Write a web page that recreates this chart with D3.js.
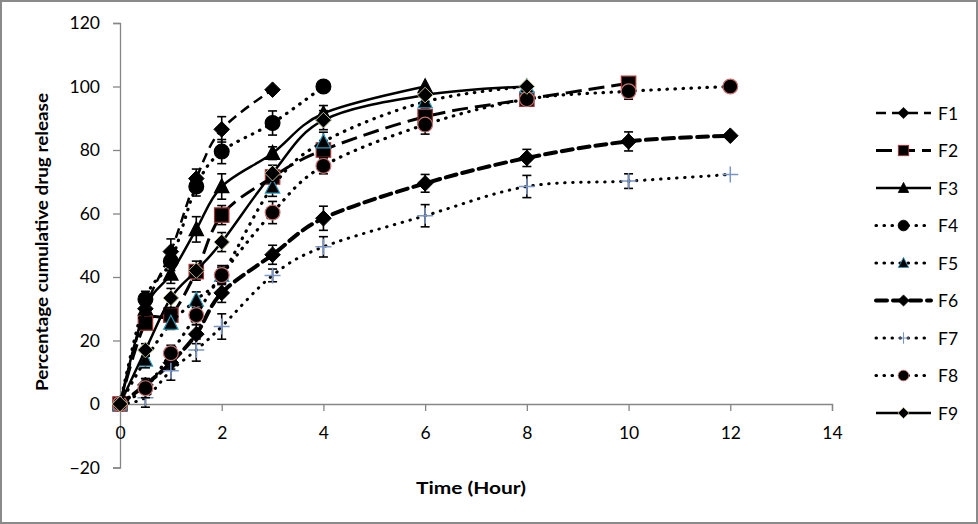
<!DOCTYPE html>
<html>
<head>
<meta charset="utf-8">
<script src="https://cdn.jsdelivr.net/npm/d3@7"></script>
<style>
  html, body { margin: 0; padding: 0; background: #fff; }
  svg { display: block; font-family: Lato, "Open Sans", sans-serif; }
</style>
</head>
<body>
<div id="chart"></div>
<script>
// ---------- data ----------
const seriesNames = ["F1", "F2", "F3", "F4", "F5", "F6", "F7", "F8", "F9"];
const timesAll = [0, 0.5, 1, 1.5, 2, 3, 4, 6, 8, 10, 12];

const F1 = [0, 30, 48, 71, 86.5, 99];
const F2 = [0, 25.5, 28, 41.7, 59.5, 71.5, 80, 90.5, 96, 101];
const F3 = [0, 30, 41, 55, 68.5, 79, 91.5, 100];
const F4 = [0, 33, 45, 68.5, 79.5, 88.5, 100];
const F5 = [0, 13.9, 25.5, 32.8, 40.6, 68.4, 82.6, 95.2, 100];
const F6 = [0, 6, 13, 22, 35, 47, 58.5, 69.5, 77.5, 82.7, 84.5];
const F7 = [0, 2, 10.5, 17, 24.4, 40.5, 49.5, 59.3, 68.5, 70.2, 72.3];
const F8 = [0, 5, 16, 28, 40.6, 60.3, 75, 88, 96, 98.5, 100];
const F9 = [0, 17, 33.4, 42, 51, 72.7, 89.4, 97.3, 100];

const F1err = [0, 2, 4, 3, 4, 0];
const F2err = [1.5, 2, 2, 2, 3, 2, 3, 2, 1.5, 1];
const F3err = [0, 2, 3, 4, 4, 2, 2.5, 0];
const F4err = [0, 2.5, 3, 3, 3.8, 3.8, 0];
const F5err = [0, 2.5, 2, 2.5, 2.5, 3, 3, 2, 0];
const F6err = [0, 2, 2, 3, 3, 3, 3.8, 2.8, 2.7, 3, 0];
const F7err = [0, 3, 3, 3.5, 4, 2, 3.2, 3.5, 3.5, 2.3, 0];
const F8err = [0, 3, 2.5, 3, 3, 3.5, 2.5, 3, 2, 2.5, 0];
const F9err = [0, 2, 3, 3, 3, 2.5, 3, 2, 0];

const xTicks = [0, 2, 4, 6, 8, 10, 12, 14];
const yTicks = [-20, 0, 20, 40, 60, 80, 100, 120];

// ---------- styles ----------
const styles = {
  F1: {dash: "10,6", width: 2.5, cap: "butt", marker: "diamond", fill: "#000", stroke: "#000"},
  F2: {dash: "16,7", width: 3, cap: "butt", marker: "square", fill: "#000", stroke: "#a83232"},
  F3: {dash: null, width: 2.5, cap: "butt", marker: "triangle", fill: "#000", stroke: "#000"},
  F4: {dash: "0.5,7.5", width: 3.2, cap: "round", marker: "circle", fill: "#000", stroke: "#000"},
  F5: {dash: "0.5,7.5", width: 3.2, cap: "round", marker: "triangle", fill: "#000", stroke: "#2b9bbd"},
  F6: {dash: "11,6", width: 4, cap: "round", marker: "diamond", fill: "#000", stroke: "#000"},
  F7: {dash: "0.5,7.5", width: 3, cap: "round", marker: "cross", fill: "none", stroke: "#7a96c8"},
  F8: {dash: "0.5,7.5", width: 3.2, cap: "round", marker: "circle", fill: "#000", stroke: "#c87070"},
  F9: {dash: null, width: 2.5, cap: "butt", marker: "diamond", fill: "#000", stroke: "#c0c090"}
};
const seriesValues = {F1, F2, F3, F4, F5, F6, F7, F8, F9};
const seriesErr = {F1: F1err, F2: F2err, F3: F3err, F4: F4err, F5: F5err, F6: F6err, F7: F7err, F8: F8err, F9: F9err};

// ---------- layout ----------
const W = 978, H = 524;
const svg = d3.select("#chart").append("svg").attr("width", W).attr("height", H);

svg.append("rect").attr("x", 1).attr("y", 1).attr("width", W - 2).attr("height", H - 2)
  .attr("fill", "#fff").attr("stroke", "#8a8a8a").attr("stroke-width", 2);

const x = d3.scaleLinear().domain([0, 14]).range([120, 832]);
const y = d3.scaleLinear().domain([-20, 120]).range([467.5, 23]);

const axisColor = "#868686";
const tickFont = "17.5px";

// y axis
const yAxis = svg.append("g").attr("transform", `translate(${x(0)},0)`)
  .call(d3.axisLeft(y).tickValues(yTicks).tickSize(7).tickPadding(13).tickFormat(d3.format("d")));
yAxis.select(".domain").attr("stroke", axisColor).attr("stroke-width", 1.3);
yAxis.selectAll(".tick line").attr("stroke", axisColor).attr("stroke-width", 1.3);
yAxis.selectAll(".tick text").attr("fill", "#000").style("font-size", tickFont)
  .style("font-family", "Lato, 'Open Sans', sans-serif");

// x axis at y = 0
const xAxis = svg.append("g").attr("transform", `translate(0,${y(0)})`)
  .call(d3.axisBottom(x).tickValues(xTicks).tickSize(7).tickPadding(16).tickFormat(d3.format("d")));
xAxis.select(".domain").attr("stroke", axisColor).attr("stroke-width", 1.3);
xAxis.selectAll(".tick line").attr("stroke", axisColor).attr("stroke-width", 1.3);
xAxis.selectAll(".tick text").attr("fill", "#000").style("font-size", tickFont)
  .style("font-family", "Lato, 'Open Sans', sans-serif");

// axis titles
svg.append("text").attr("x", 471).attr("y", 494).attr("text-anchor", "middle")
  .style("font-size", "17.5px").style("font-weight", "bold")
  .attr("textLength", 110).attr("lengthAdjust", "spacingAndGlyphs")
  .text("Time (Hour)");
svg.append("text").attr("transform", "translate(48,242) rotate(-90)").attr("text-anchor", "middle")
  .style("font-size", "17px").style("font-weight", "bold")
  .attr("textLength", 298).attr("lengthAdjust", "spacingAndGlyphs")
  .text("Percentage cumulative drug release");

// ---------- marker drawing ----------
function drawMarker(g, type, fill, stroke) {
  if (type === "diamond") {
    g.append("path").attr("d", "M0,-7.8L7.8,0L0,7.8L-7.8,0Z").attr("fill", fill).attr("stroke", stroke).attr("stroke-width", 1);
  } else if (type === "square") {
    g.append("rect").attr("x", -7.2).attr("y", -7.2).attr("width", 14.4).attr("height", 14.4)
      .attr("fill", fill).attr("stroke", stroke).attr("stroke-width", 1.2);
  } else if (type === "triangle") {
    g.append("path").attr("d", "M0,-7.8L7.2,6.2L-7.2,6.2Z").attr("fill", fill).attr("stroke", stroke).attr("stroke-width", 1.2);
  } else if (type === "circle") {
    g.append("circle").attr("r", 7.4).attr("fill", fill).attr("stroke", stroke).attr("stroke-width", 1.2);
  } else if (type === "cross") {
    g.append("path").attr("d", "M-8,0H8M0,-8V8").attr("fill", "none").attr("stroke", stroke).attr("stroke-width", 1.5);
  }
}

const line = d3.line().x(d => x(d.t)).y(d => y(d.v)).curve(d3.curveCatmullRom.alpha(0));

const seriesData = seriesNames.map(name => ({
  name,
  pts: seriesValues[name].map((v, i) => ({t: timesAll[i], v, e: seriesErr[name][i]}))
}));

const plot = svg.append("g");

seriesData.forEach(s => {
  const st = styles[s.name];
  const sg = plot.append("g");
  sg.append("path").datum(s.pts).attr("d", line).attr("fill", "none")
    .attr("stroke", "#000").attr("stroke-width", st.width)
    .attr("stroke-dasharray", st.dash).attr("stroke-linecap", st.cap);
  // error bars
  const eb = sg.append("g").attr("stroke", "#000").attr("stroke-width", 1.6);
  s.pts.filter(p => p.e > 0).forEach(p => {
    const cx = x(p.t);
    eb.append("line").attr("x1", cx).attr("x2", cx).attr("y1", y(p.v + p.e)).attr("y2", y(p.v - p.e));
    eb.append("line").attr("x1", cx - 4.5).attr("x2", cx + 4.5).attr("y1", y(p.v + p.e)).attr("y2", y(p.v + p.e));
    eb.append("line").attr("x1", cx - 4.5).attr("x2", cx + 4.5).attr("y1", y(p.v - p.e)).attr("y2", y(p.v - p.e));
  });
  s.pts.forEach(p => {
    const mg = sg.append("g").attr("transform", `translate(${x(p.t)},${y(p.v)})`);
    drawMarker(mg, st.marker, st.fill, st.stroke);
  });
});

// ---------- legend ----------
const legend = svg.append("g");
seriesNames.forEach((name, i) => {
  const st = styles[name];
  const ly = 113 + i * 37.5;
  const lg = legend.append("g");
  lg.append("line").attr("x1", 876).attr("x2", 931).attr("y1", ly).attr("y2", ly)
    .attr("stroke", "#000").attr("stroke-width", st.width)
    .attr("stroke-dasharray", st.dash).attr("stroke-linecap", st.cap);
  const mg = lg.append("g").attr("transform", `translate(903.5,${ly}) scale(0.72)`);
  drawMarker(mg, st.marker, st.fill, st.stroke);
  lg.append("text").attr("x", 938).attr("y", ly + 6.5).style("font-size", "17.5px").text(name);
});
</script>
</body>
</html>
